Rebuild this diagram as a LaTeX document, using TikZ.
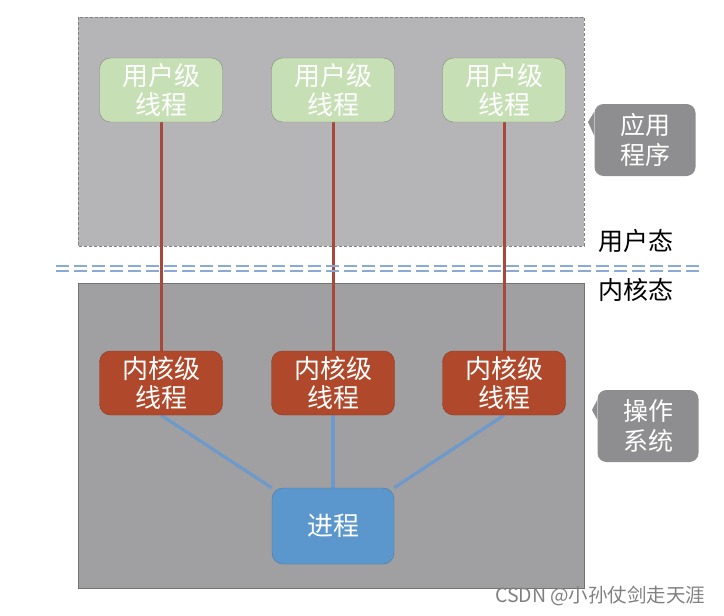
\documentclass[tikz,border=0pt]{standalone}
\usepackage{fontspec}
\usepackage{tikz}
\usetikzlibrary{calc,positioning,backgrounds}
\newfontfamily\cjk{Noto Sans CJK SC}
\definecolor{userGray}{HTML}{B5B4B6}
\definecolor{kernGray}{HTML}{A09FA1}
\definecolor{userGreen}{HTML}{C6DFB5}
\definecolor{kernRed}{HTML}{B0492B}
\definecolor{procBlue}{HTML}{5B97CC}
\definecolor{lineRed}{HTML}{A8483A}
\definecolor{lineBlue}{HTML}{6D9ACB}
\definecolor{tagGray}{HTML}{8E8E90}
\definecolor{sepBlue}{HTML}{8AAAD6}

\begin{document}
\begin{tikzpicture}[
  x=1pt, y=-1pt,
  every node/.style={font=\cjk},
  thread/.style={
    draw, rounded corners=11pt, minimum width=123pt, minimum height=64pt,
    align=center, text=white, inner sep=2pt,
    font=\cjk\fontsize{26}{29}\selectfont,
  },
  uthread/.style={thread, fill=userGreen, draw=userGreen!45!black!75},
  kthread/.style={thread, fill=kernRed, draw=kernRed!80!black},
  procbox/.style={thread, fill=procBlue, draw=procBlue!80!black, minimum width=122pt, minimum height=76pt},
  tag/.style={
    fill=tagGray, rounded corners=9pt, minimum width=101pt, minimum height=72pt,
    align=center, text=white, inner sep=2pt,
    font=\cjk\fontsize{25}{30}\selectfont,
  },
  mode/.style={font=\cjk\fontsize{25}{28}\selectfont, text=black},
  redline/.style={lineRed, line width=3pt},
  blueline/.style={lineBlue, line width=3.2pt},
  sep/.style={sepBlue, line width=1.6pt, dash pattern=on 13pt off 5pt},
]
\useasboundingbox (0,0) rectangle (724,616);

% User-level threads
\node[uthread] (u1) at (161, 90) {用户级\\线程};
\node[uthread] (u2) at (333, 90) {用户级\\线程};
\node[uthread] (u3) at (504, 90) {用户级\\线程};

% Kernel-level threads
\node[kthread] (k1) at (161, 383) {内核级\\线程};
\node[kthread] (k2) at (333, 383) {内核级\\线程};
\node[kthread] (k3) at (504, 383) {内核级\\线程};

% Process
\node[procbox] (proc) at (333, 526) {进程};

% Regions (behind everything)
\begin{scope}[on background layer]
  \draw[fill=userGray, draw=gray, densely dashed, line width=0.6pt] (78, 17) rectangle (584, 246);
  \draw[fill=kernGray, draw=gray!90!black, line width=0.8pt] (78, 283) rectangle (584, 588);
\end{scope}

% Connectors
\begin{scope}[on background layer]
  \draw[redline] (u1.south) -- (k1.north);
  \draw[redline] (u2.south) -- (k2.north);
  \draw[redline] (u3.south) -- (k3.north);
  \draw[blueline] (k1.south) -- (proc.north west);
  \draw[blueline] (k2.south) -- (proc.north);
  \draw[blueline] (k3.south) -- (proc.north east);
\end{scope}

% Mode separator
\draw[sep] (56, 266) -- (702, 266);
\draw[sep] (56, 271) -- (702, 271);
\node[mode] (umode) at (636, 241) {用户态};
\node[mode] (kmode) at (636, 290) {内核态};

% Tags
\node[tag] (app) at (645, 140) {应用\\程序};
\fill[tagGray] ($(app.north west)+(0,8)$) -- (588, 122) -- ($(app.north west)+(0,32)$) -- cycle;
\node[tag] (os) at (648, 426) {操作\\系统};
\fill[tagGray] ($(os.north west)+(0,10)$) -- (592, 410) -- ($(os.north west)+(0,30)$) -- cycle;

% Watermark
\node[font=\cjk\fontsize{19.5}{22}\selectfont, text=gray, anchor=east] (mark) at (709, 596) {CSDN @小孙仗剑走天涯};

\end{tikzpicture}
\end{document}
